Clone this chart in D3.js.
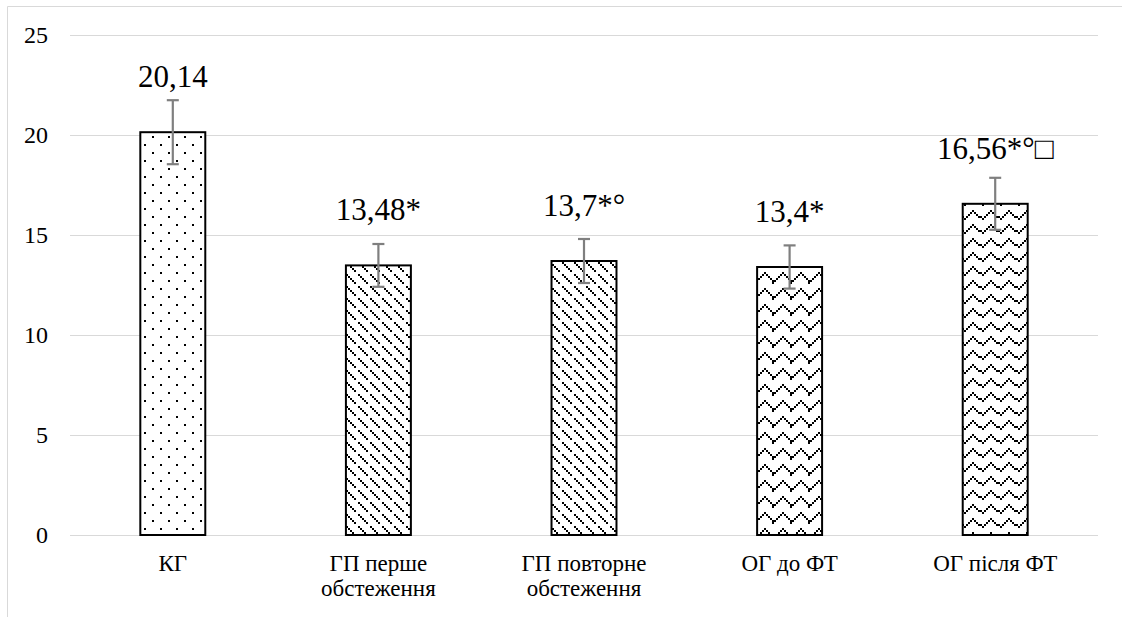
<!DOCTYPE html>
<html>
<head>
<meta charset="utf-8">
<script src="https://cdn.jsdelivr.net/npm/d3@7"></script>
<style>
  html, body { margin: 0; padding: 0; background: #fff; }
  svg { display: block; }
</style>
</head>
<body>
<svg id="chart" width="1122" height="617"></svg>
<script>
// Categories (two-line labels are split with "\n")
const categories = ["КГ", "ГП перше\nобстеження", "ГП повторне\nобстеження", "ОГ до ФТ", "ОГ після ФТ"];
// Mean values
const values = [20.14, 13.48, 13.7, 13.4, 16.56];
// Error bar half-widths
const errors = [1.6, 1.07, 1.1, 1.08, 1.3];
// Value labels with significance marks
const valueLabels = ["20,14", "13,48*", "13,7*°", "13,4*", "16,56*°□"];
// Fill pattern per bar
const patternIds = ["dots", "diag", "diag", "wave", "scale"];
// Y axis ticks
const yTicks = [0, 5, 10, 15, 20, 25];

const W = 1122, H = 617;
const margin = { left: 70, right: 24, top: 35, bottom: 82 };
const SERIF = "Liberation Serif";

const svg = d3.select("#chart");
const defs = svg.append("defs");

// Build a pixel pattern from rows of '#' cells (each cell = 2x2 px)
function pixelPattern(id, rows, cell) {
  const h = rows.length * cell, w = rows[0].length * cell;
  const p = defs.append("pattern")
    .attr("id", id).attr("patternUnits", "userSpaceOnUse")
    .attr("width", w).attr("height", h);
  p.append("rect").attr("width", w).attr("height", h).attr("fill", "#fff");
  rows.forEach((r, j) => {
    [...r].forEach((c, i) => {
      if (c === "#") p.append("rect")
        .attr("x", i * cell).attr("y", j * cell)
        .attr("width", cell).attr("height", cell)
        .attr("fill", "#000").attr("shape-rendering", "crispEdges");
    });
  });
}

pixelPattern("dots", [
  "#.......",
  "........",
  "........",
  "........",
  "....#...",
  "........",
  "........",
  "........"
], 2);

pixelPattern("diag", [
  "#.....",
  ".#....",
  "..#...",
  "...#..",
  "......",
  ".....#"
], 2);

pixelPattern("wave", [
  "....#....",
  "...#.#...",
  "..#...#..",
  ".#.....#.",
  "#.......#",
  "........#",
  ".........",
  "........."
], 2);

pixelPattern("scale", [
  "#........",
  ".#......#",
  "..#....#.",
  "...##.#..",
  ".....#...",
  ".........",
  "........."
], 2);

// Outer chart frame (top and left edges)
svg.append("line").attr("x1", 7.5).attr("x2", W).attr("y1", 6.5).attr("y2", 6.5)
  .attr("stroke", "#d9d9d9").attr("stroke-width", 1);
svg.append("line").attr("x1", 7.5).attr("x2", 7.5).attr("y1", 6.5).attr("y2", H)
  .attr("stroke", "#d9d9d9").attr("stroke-width", 1);

const x = d3.scaleBand()
  .domain(categories)
  .range([margin.left, W - margin.right])
  .paddingInner(0.684).paddingOuter(0.342);

const y = d3.scaleLinear()
  .domain([0, 25])
  .range([H - margin.bottom, margin.top]);

// Gridlines + tick labels
const yAxis = d3.axisLeft(y).tickValues(yTicks)
  .tickSize(-(W - margin.left - margin.right)).tickPadding(22)
  .tickFormat(d3.format("d"));
const gy = svg.append("g").attr("transform", `translate(${margin.left},0)`)
  .call(yAxis)
  .attr("font-family", SERIF).attr("font-size", 24);
gy.select(".domain").remove();
gy.selectAll(".tick line").attr("stroke", "#d9d9d9").attr("stroke-width", 1);
gy.selectAll(".tick text").attr("fill", "#000");

// Bars
svg.append("g").selectAll("rect")
  .data(values)
  .join("rect")
  .attr("x", (d, i) => x(categories[i]))
  .attr("y", d => y(d))
  .attr("width", x.bandwidth())
  .attr("height", d => y(0) - y(d))
  .attr("fill", (d, i) => `url(#${patternIds[i]})`)
  .attr("stroke", "#000")
  .attr("stroke-width", 2);

// Error bars
const eg = svg.append("g").attr("stroke", "#7f7f7f").attr("stroke-width", 2.2);
values.forEach((v, i) => {
  const cx = x(categories[i]) + x.bandwidth() / 2;
  const top = y(v + errors[i]), bot = y(v - errors[i]);
  eg.append("line").attr("x1", cx).attr("x2", cx).attr("y1", top).attr("y2", bot);
  eg.append("line").attr("x1", cx - 6).attr("x2", cx + 6).attr("y1", top).attr("y2", top);
  eg.append("line").attr("x1", cx - 6).attr("x2", cx + 6).attr("y1", bot).attr("y2", bot);
});

// Value labels
svg.append("g")
  .attr("font-family", SERIF).attr("font-size", 31)
  .selectAll("text")
  .data(values)
  .join("text")
  .attr("x", (d, i) => x(categories[i]) + x.bandwidth() / 2)
  .attr("y", d => y(d) - 45)
  .attr("text-anchor", "middle")
  .attr("fill", "#000")
  .text((d, i) => valueLabels[i]);

// Category labels
const cg = svg.append("g").attr("font-family", SERIF).attr("font-size", 23);
categories.forEach(c => {
  const cx = x(c) + x.bandwidth() / 2;
  const t = cg.append("text")
    .attr("x", cx)
    .attr("y", y(0) + 36)
    .attr("text-anchor", "middle")
    .attr("fill", "#000");
  c.split("\n").forEach((line, k) => {
    t.append("tspan").attr("x", cx)
      .attr("dy", k === 0 ? 0 : 25).text(line);
  });
});
</script>
</body>
</html>
